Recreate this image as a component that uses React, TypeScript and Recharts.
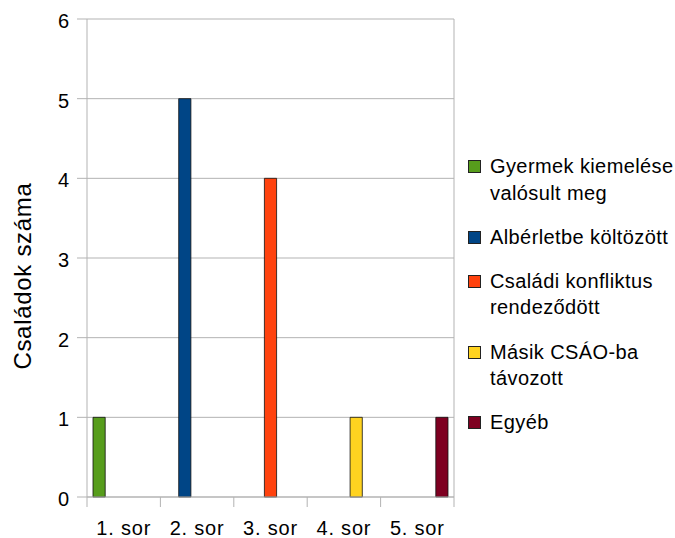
import React from 'react';
import { BarChart, Bar, XAxis, YAxis, CartesianGrid, Legend } from 'recharts';

const categories = ['1. sor', '2. sor', '3. sor', '4. sor', '5. sor'];
const seriesNames = [
  'Gyermek kiemelése valósult meg',
  'Albérletbe költözött',
  'Családi konfliktus rendeződött',
  'Másik CSÁO-ba távozott',
  'Egyéb',
];
const gyermekKiemelese = [1, 0, 0, 0, 0];
const alberletbeKoltozott = [0, 5, 0, 0, 0];
const csaladiKonfliktus = [0, 0, 4, 0, 0];
const masikCsao = [0, 0, 0, 1, 0];
const egyeb = [0, 0, 0, 0, 1];
const yTicks = [0, 1, 2, 3, 4, 5, 6];
const yTitle = 'Családok száma';

const seriesValues = [gyermekKiemelese, alberletbeKoltozott, csaladiKonfliktus, masikCsao, egyeb];
const colors = ['#579D1C', '#004586', '#FF420E', '#FFD320', '#7E0021'];
const GRID = '#b3b3b3';
const FONT = '"Liberation Sans", Arial, sans-serif';

const data = categories.map((c, i) => {
  const row: any = { name: c };
  seriesValues.forEach((s, k) => {
    row['s' + k] = s[i];
  });
  return row;
});

const XTick = (props: any) => {
  const { x, y, payload, index, visibleTicksCount } = props;
  const half = payload && payload.offset ? payload.offset : 36.7;
  return (
    <g>
      <line x1={x - half} x2={x - half} y1={y} y2={y + 10} stroke={GRID} strokeWidth={1} />
      {index === visibleTicksCount - 1 && (
        <line x1={x + half} x2={x + half} y1={y} y2={y + 10} stroke={GRID} strokeWidth={1} />
      )}
      <text
        x={x}
        y={y + 38}
        textAnchor="middle"
        fontSize={20}
        letterSpacing={0.8}
        fontFamily={FONT}
        fill="#000"
      >
        {payload.value}
      </text>
    </g>
  );
};

const YTick = (props: any) => {
  const { x, y, payload } = props;
  return (
    <text x={x} y={y + 9} textAnchor="end" fontSize={20} fontFamily={FONT} fill="#000">
      {payload.value}
    </text>
  );
};

const YTitle = (props: any) => {
  const vb = props.viewBox || { x: 0, y: 19, width: 87, height: 478 };
  const cx = vb.x + 22;
  const cy = vb.y + vb.height / 2 + 18;
  return (
    <text
      x={cx}
      y={cy}
      transform={`rotate(-90, ${cx}, ${cy})`}
      textAnchor="middle"
      dominantBaseline="central"
      fontSize={24}
      letterSpacing={0.7}
      fontFamily={FONT}
      fill="#000"
    >
      {yTitle}
    </text>
  );
};

const LegendContent = (props: any) => {
  const payload = [...(props.payload || [])].sort(
    (a: any, b: any) => seriesNames.indexOf(a.value) - seriesNames.indexOf(b.value)
  );
  return (
    <div style={{ fontFamily: FONT, fontSize: 20, letterSpacing: 0.4, color: '#000' }}>
      {payload.map((p: any, i: number) => (
        <div
          key={i}
          style={{ display: 'flex', alignItems: 'flex-start', marginBottom: 17.7, lineHeight: '26.5px' }}
        >
          <div
            style={{
              width: 11,
              height: 11,
              marginTop: 7,
              background: p.color,
              border: '1px solid #222',
              flexShrink: 0,
              marginRight: 9,
            }}
          />
          <div style={{ width: 184, flexShrink: 0, whiteSpace: 'normal' }}>{p.value}</div>
        </div>
      ))}
    </div>
  );
};

export default function App() {
  return (
    <div style={{ position: 'absolute', left: 0, top: 0, background: '#fff', overflow: 'hidden' }}>
      <BarChart
        width={675}
        height={538}
        data={data}
        margin={{ top: 19, right: 221, left: 0, bottom: 0 }}
        barSize={12.2}
        barGap={0.1}
      >
        <CartesianGrid
          stroke={GRID}
          horizontal={true}
          vertical={true}
          verticalCoordinatesGenerator={({ offset }: any) => [offset.left + offset.width]}
        />
        <XAxis
          dataKey="name"
          height={41}
          axisLine={{ stroke: GRID }}
          tickLine={false}
          tickSize={0}
          tickMargin={0}
          tick={<XTick />}
          interval={0}
        />
        <YAxis
          width={87}
          domain={[0, 6]}
          ticks={yTicks}
          allowDecimals={false}
          axisLine={{ stroke: GRID }}
          tickLine={{ stroke: GRID }}
          tickSize={10}
          tickMargin={8}
          tick={<YTick />}
          label={{ content: <YTitle /> }}
        />
        <Legend
          layout="vertical"
          align="center"
          verticalAlign="middle"
          itemSorter={null as any}
          content={<LegendContent />}
          wrapperStyle={{ position: 'absolute', left: 468, top: 153, width: 207 }}
        />
        {seriesNames.map((n, k) => (
          <Bar
            key={n}
            dataKey={'s' + k}
            name={n}
            fill={colors[k]}
            stroke="#111"
            strokeWidth={0.8}
            isAnimationActive={false}
          />
        ))}
      </BarChart>
    </div>
  );
}
